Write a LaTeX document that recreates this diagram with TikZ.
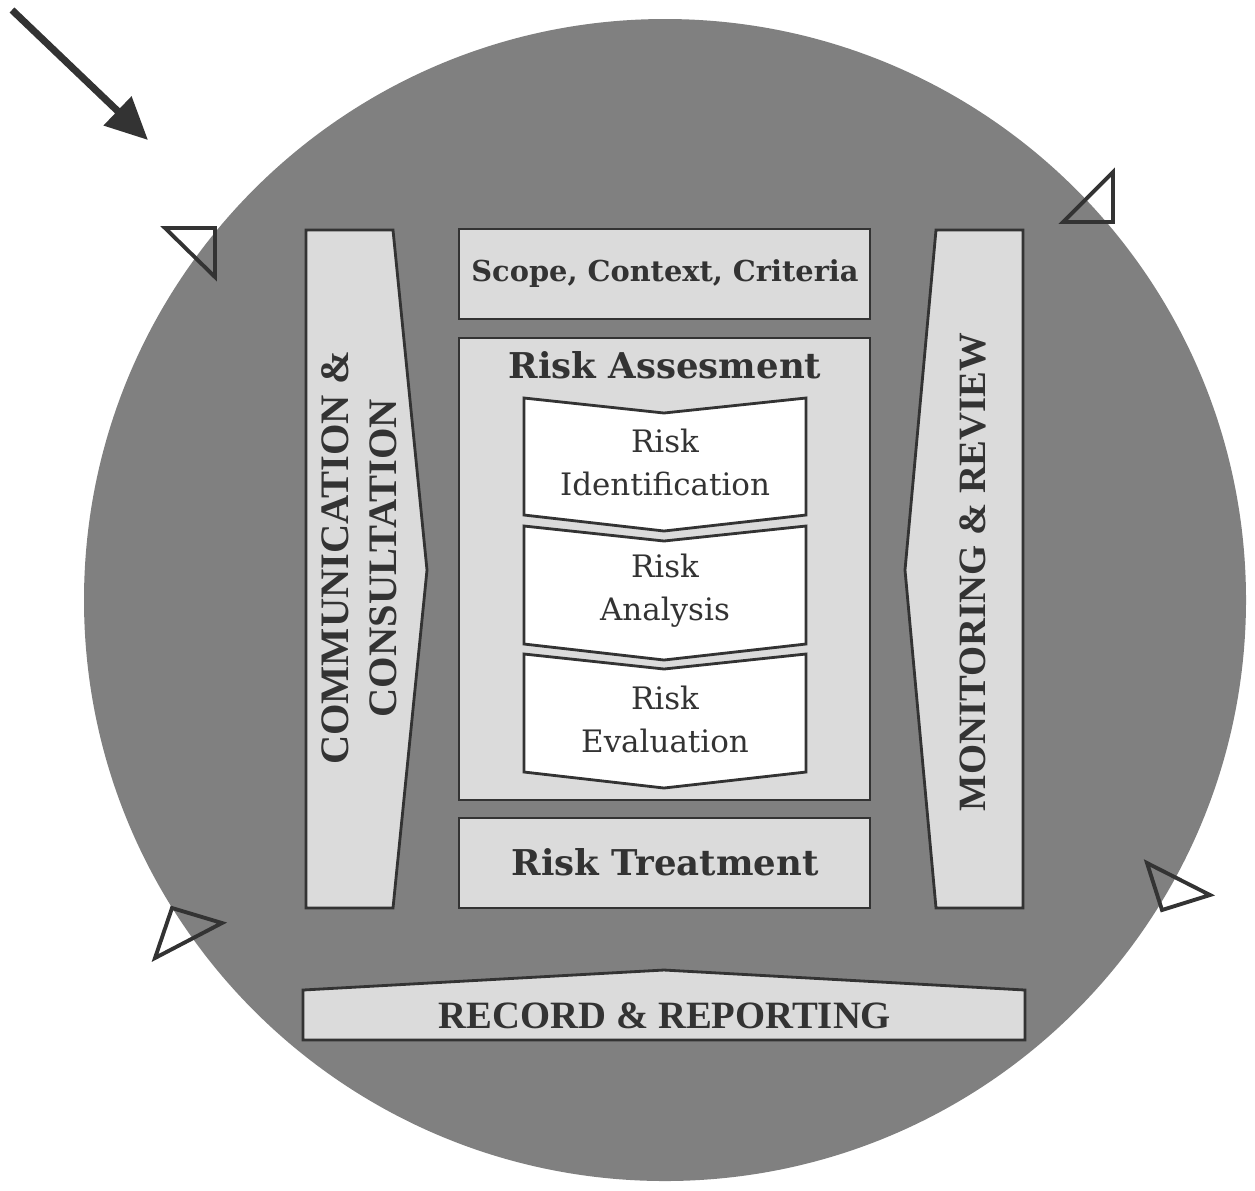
\documentclass[tikz,border=0pt]{standalone}
\usepackage{fontspec}
\setmainfont{DejaVu Serif}
\newfontfamily\capsfont{Liberation Serif}
\usetikzlibrary{arrows.meta}
\definecolor{disc}{gray}{0.5}
\definecolor{panel}{gray}{0.86}
\definecolor{ink}{gray}{0.2}
\tikzset{
  frame/.style={draw=ink,line width=0.8pt,line join=miter},
  marker/.style={draw=ink,line width=1.1pt,line join=miter},
  boldlabel/.style={text=ink,font=\bfseries\fontsize{8.2}{10}\selectfont},
  biglabel/.style={text=ink,font=\bfseries\fontsize{10.1}{12}\selectfont},
  steplabel/.style={text=ink,align=center,font=\fontsize{8.8}{12.2}\selectfont},
  capslabel/.style={text=ink,align=center,font=\capsfont\bfseries\fontsize{11.5}{13.6}\selectfont}
}
\providecommand{\Marker}[3]{
\draw[marker] (#1) -- (#2) -- (#3) -- cycle;
}
\providecommand{\Chevron}[4]{
\draw[frame,fill=white] (524,#2) -- (664,#2+15) -- (806,#2) -- (806,#3) -- (664,#3+16) -- (524,#3) -- cycle;
\node[steplabel] (#1) at (665,{(#2+#3)/2+6}) {Risk\\#4};
}

\begin{document}
\begin{tikzpicture}[x=0.01cm,y=-0.01cm]
\useasboundingbox (0,0) rectangle (1255,1190);
\fill[disc] (665,600) circle (581);

% side panels
\draw[frame,fill=panel] (306,230) -- (393,230) -- (427,570) -- (393,908) -- (306,908) -- cycle;
\draw[frame,fill=panel] (1023,230) -- (936,230) -- (905,570) -- (936,908) -- (1023,908) -- cycle;
\node[capslabel,rotate=90] (comm) at (359,558) {COMMUNICATION \&\\CONSULTATION};
\node[capslabel,rotate=90,font=\capsfont\bfseries\fontsize{11}{13}\selectfont] (monitor) at (973,572) {MONITORING \& REVIEW};

% middle column
\draw[frame,fill=panel] (459,229) rectangle (870,319);
\node[boldlabel] (scope) at (665,274) {Scope, Context, Criteria};
\draw[frame,fill=panel] (459,338) rectangle (870,800);
\node[biglabel] (assess) at (665,365) {Risk Assesment};
\Chevron{ident}{398}{515}{Identification}
\Chevron{analysis}{526}{644}{Analysis}
\Chevron{evaluation}{654}{772}{Evaluation}
\draw[frame,fill=panel] (459,818) rectangle (870,908);
\node[biglabel] (treat) at (665,862) {Risk Treatment};

% bottom banner
\draw[frame,fill=panel] (303,990) -- (664,970) -- (1025,990) -- (1025,1040) -- (303,1040) -- cycle;
\node[capslabel,font=\capsfont\bfseries\fontsize{11}{13}\selectfont] (record) at (665,1016) {RECORD \& REPORTING};

% open triangles round the rim
\Marker{165,228}{215,228}{215,277}
\Marker{1063,222}{1113,222}{1113,172}
\Marker{172,908}{222,923}{155,958}
\Marker{1147,863}{1210,895}{1162,910}

\coordinate (start) at (12,10);
\coordinate (entry) at (148,140);
\draw[ink,line width=2pt,-{Triangle[length=12pt,width=11pt]}] (start) -- (entry);
\end{tikzpicture}
\end{document}
